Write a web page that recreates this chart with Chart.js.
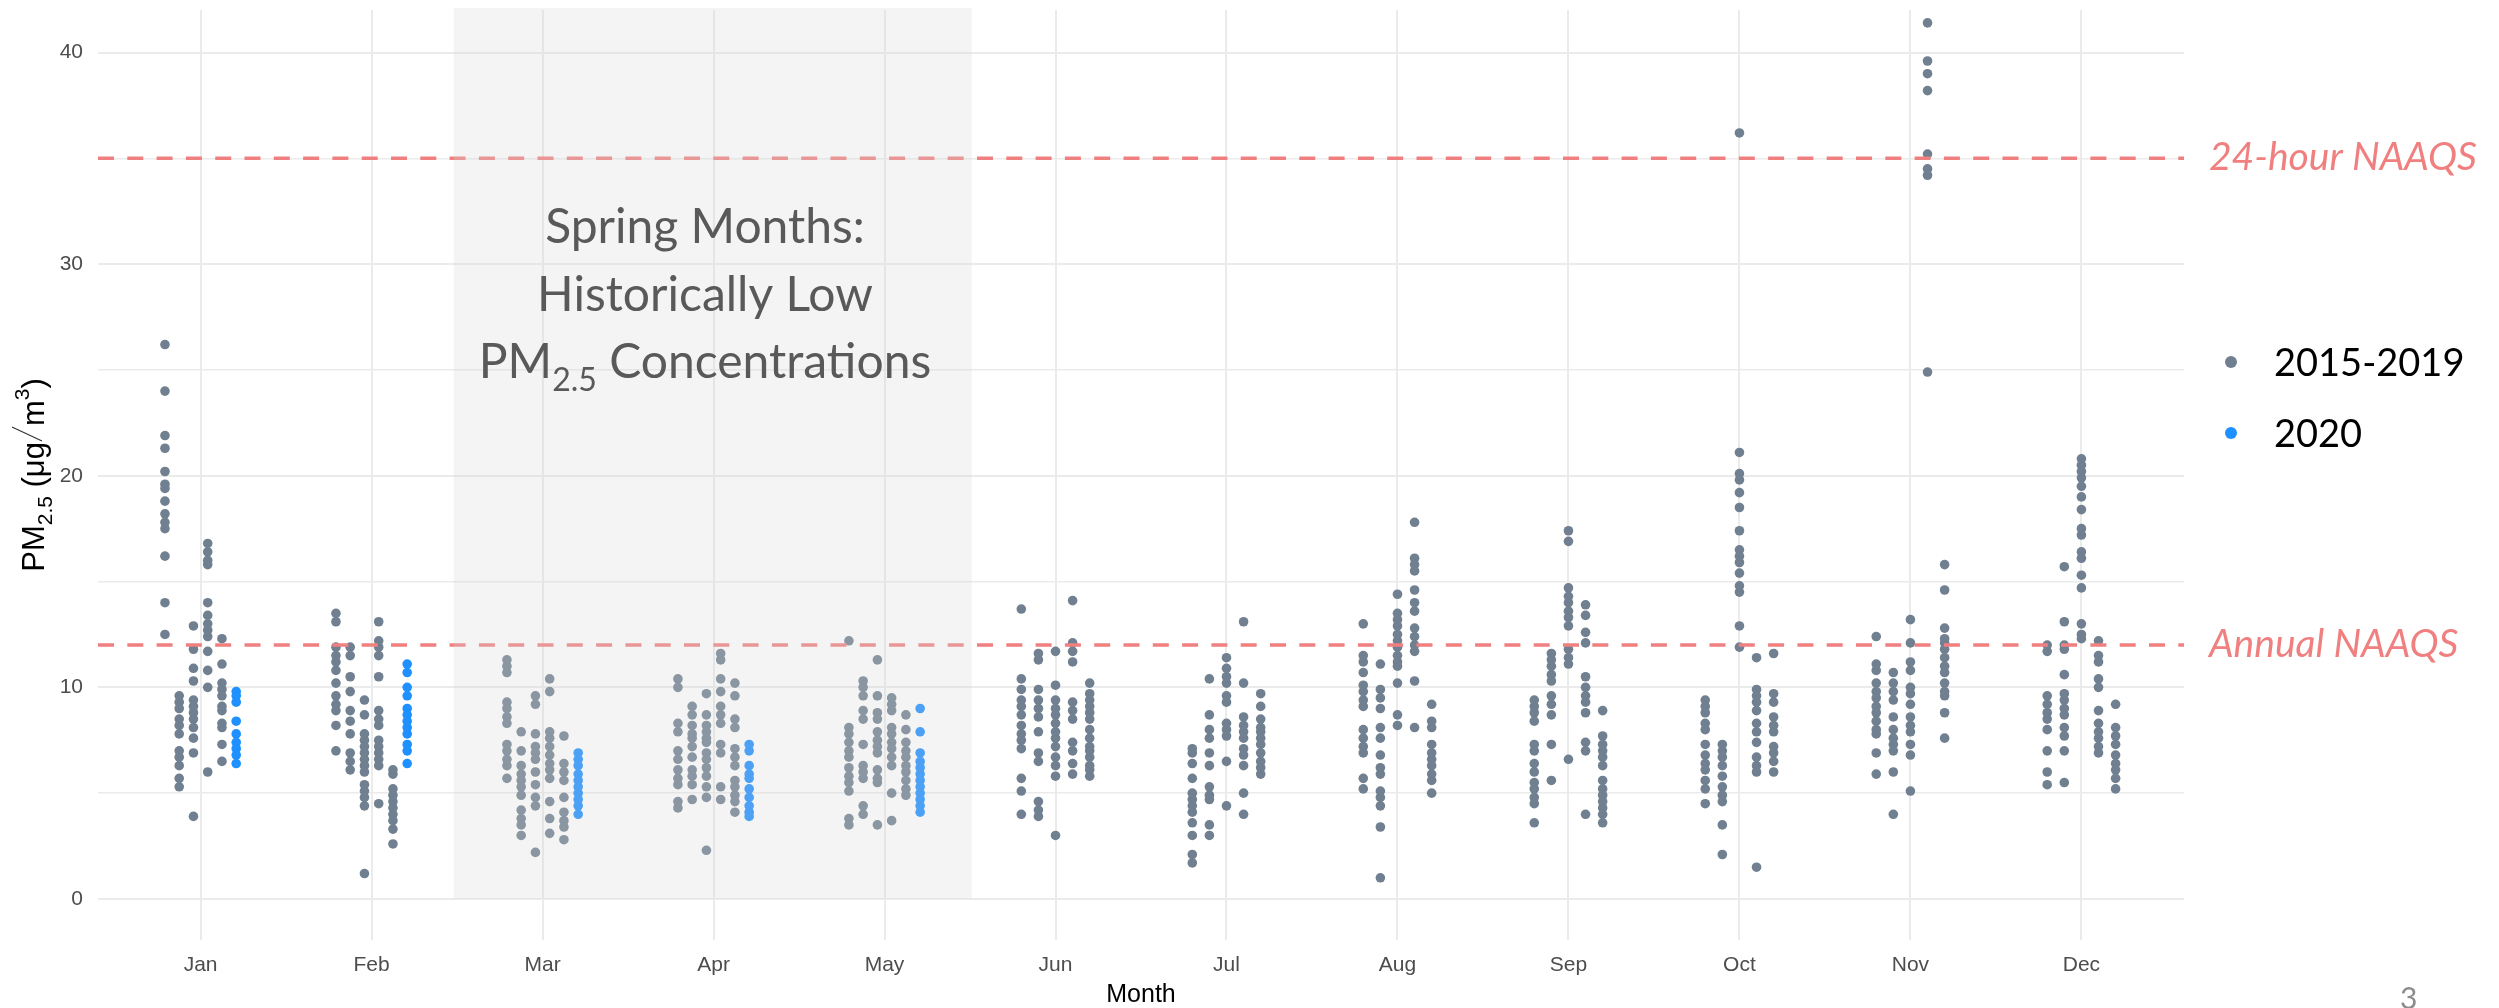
<!DOCTYPE html>
<html>
<head>
<meta charset="utf-8">
<title>PM2.5 by month</title>
<script src="https://cdn.jsdelivr.net/npm/chart.js@4.4.1/dist/chart.umd.min.js"></script>
<style>
  html, body { margin: 0; padding: 0; background: #fff; }
  canvas { display: block; }
</style>
</head>
<body>
<canvas id="pmChart" width="2499" height="1008"></canvas>
<script>
'use strict';

const months = ['Jan', 'Feb', 'Mar', 'Apr', 'May', 'Jun', 'Jul', 'Aug', 'Sep', 'Oct', 'Nov', 'Dec'];
const yTicks = [0, 5, 10, 15, 20, 25, 30, 35, 40];
const histLabel = '2015-2019';
const recentLabel = '2020';
const dailyStd = 35;
const annualStd = 12;

// daily PM2.5 values, one inner list per year (2015..2019)
const janHist = [
  [26.2, 24.0, 21.9, 21.3, 20.2, 19.6, 19.4, 18.8, 18.2, 17.8, 17.5, 16.2, 14.0, 12.5],
  [9.6, 9.3, 9.0, 8.5, 8.2, 7.8, 7.0, 6.7, 6.3, 5.7, 5.3],
  [12.9, 11.8, 10.9, 10.3, 9.4, 9.1, 8.8, 8.5, 8.1, 7.6, 6.9, 3.9],
  [16.8, 16.4, 16.0, 15.8, 14.0, 13.4, 13.0, 12.7, 12.4, 11.7, 10.8, 10.0, 6.0],
  [12.3, 11.1, 10.2, 9.9, 9.6, 9.1, 8.9, 8.3, 8.1, 7.3, 6.5]
];
const febHist = [
  [13.5, 13.1, 11.9, 11.5, 11.2, 10.8, 10.2, 9.6, 9.2, 8.9, 8.2, 7.0],
  [11.9, 11.5, 10.5, 9.8, 8.9, 8.4, 7.8, 6.9, 6.5, 6.1],
  [9.4, 8.7, 7.8, 7.5, 7.2, 6.9, 6.6, 6.3, 6.0, 5.4, 5.1, 4.8, 4.4, 1.2],
  [13.1, 12.2, 11.9, 11.5, 10.5, 8.9, 8.5, 8.2, 7.5, 7.2, 6.9, 6.6, 6.3, 4.5],
  [6.1, 5.9, 5.2, 4.9, 4.6, 4.3, 4.0, 3.7, 3.3, 2.6]
];
const marHist = [
  [11.3, 11.0, 10.7, 9.3, 9.0, 8.6, 8.3, 7.3, 7.0, 6.6, 6.3, 5.7],
  [7.9, 7.0, 6.3, 5.9, 5.6, 5.3, 4.9, 4.2, 3.8, 3.5, 3.0],
  [9.6, 9.2, 7.8, 7.2, 6.9, 6.6, 6.0, 5.4, 4.8, 4.4, 2.2],
  [10.4, 9.8, 7.9, 7.6, 7.2, 6.8, 6.4, 6.1, 5.7, 4.6, 3.8, 3.1],
  [7.7, 6.4, 6.0, 5.6, 4.8, 4.1, 3.7, 3.4, 2.8]
];
const aprHist = [
  [10.4, 10.0, 8.3, 7.9, 7.0, 6.6, 6.1, 5.7, 5.4, 4.6, 4.3],
  [9.1, 8.7, 8.2, 7.8, 7.6, 7.2, 6.7, 6.1, 5.8, 5.4, 4.7],
  [9.7, 8.7, 8.2, 7.9, 7.6, 7.4, 6.9, 6.6, 6.2, 5.8, 5.3, 4.8, 2.3],
  [11.6, 11.3, 10.4, 9.8, 9.1, 8.7, 8.3, 7.3, 6.9, 5.3, 4.7],
  [10.2, 9.6, 8.5, 8.1, 7.1, 6.7, 6.3, 5.6, 5.3, 4.9, 4.6, 4.1]
];
const mayHist = [
  [12.2, 8.1, 7.8, 7.4, 7.0, 6.7, 6.2, 5.8, 5.5, 5.1, 3.8, 3.5],
  [10.3, 10.0, 9.6, 8.9, 8.5, 7.3, 6.3, 6.0, 5.7, 4.4, 4.0],
  [11.3, 9.6, 8.8, 8.5, 7.9, 7.5, 7.2, 6.9, 6.1, 5.7, 5.5, 3.5],
  [9.5, 9.2, 8.9, 8.1, 7.8, 7.4, 7.1, 6.7, 6.3, 5.0, 3.7],
  [8.7, 8.0, 7.4, 7.0, 6.7, 6.3, 6.0, 5.6, 5.2, 4.9]
];
const junHist = [
  [13.7, 10.4, 9.9, 9.4, 9.1, 8.7, 8.2, 7.8, 7.5, 7.1, 5.7, 5.1, 4.0],
  [11.6, 11.3, 9.9, 9.4, 9.0, 8.6, 7.9, 6.9, 6.5, 4.6, 4.2, 3.9],
  [11.7, 10.1, 9.4, 9.0, 8.7, 8.3, 7.9, 7.6, 7.2, 6.7, 6.3, 5.8, 3.0],
  [14.1, 12.1, 11.7, 11.2, 9.3, 8.9, 8.5, 7.4, 7.0, 6.4, 5.9],
  [10.2, 9.7, 9.4, 9.1, 8.8, 8.5, 8.0, 7.6, 7.2, 7.0, 6.7, 6.3, 6.1, 5.8]
];
const julHist = [
  [7.1, 6.9, 6.4, 5.7, 5.0, 4.7, 4.4, 4.1, 3.6, 3.0, 2.1, 1.7],
  [10.4, 8.7, 8.0, 7.6, 6.9, 6.3, 5.3, 4.9, 4.7, 3.5, 3.0],
  [11.4, 10.9, 10.5, 10.2, 9.6, 9.3, 8.3, 8.0, 7.7, 6.5, 4.4],
  [13.1, 10.2, 8.6, 8.2, 7.9, 7.6, 7.1, 6.8, 6.3, 5.0, 4.0],
  [9.7, 9.1, 8.5, 8.1, 7.9, 7.6, 7.3, 6.9, 6.5, 6.2, 5.9]
];
const augHist = [
  [13.0, 11.5, 11.2, 10.7, 10.1, 9.8, 9.4, 9.1, 8.0, 7.6, 7.2, 6.9, 5.7, 5.2],
  [11.1, 9.9, 9.5, 9.0, 8.1, 7.6, 6.8, 6.2, 5.9, 5.1, 4.8, 4.4, 3.4, 1.0],
  [14.4, 13.5, 13.2, 12.9, 12.5, 12.2, 11.9, 11.5, 11.2, 11.0, 10.2, 8.7, 8.2],
  [17.8, 16.1, 15.8, 15.5, 14.6, 14.0, 13.6, 12.8, 12.4, 12.0, 11.7, 10.3, 8.1],
  [9.2, 8.4, 8.1, 7.3, 6.9, 6.6, 6.3, 5.9, 5.6, 5.0]
];
const sepHist = [
  [9.4, 9.1, 8.8, 8.4, 7.3, 7.0, 6.4, 6.0, 5.5, 5.2, 4.8, 4.5, 3.6],
  [11.6, 11.3, 11.0, 10.6, 10.3, 9.6, 9.2, 8.7, 7.3, 5.6],
  [17.4, 16.9, 14.7, 14.3, 14.0, 13.6, 13.3, 12.9, 11.8, 11.4, 11.1, 6.6],
  [13.9, 13.4, 12.6, 12.1, 10.5, 10.0, 9.6, 9.3, 8.8, 7.4, 7.0, 4.0],
  [8.9, 7.7, 7.3, 7.0, 6.7, 6.3, 5.6, 5.2, 4.9, 4.6, 4.3, 4.0, 3.6]
];
const octHist = [
  [9.4, 9.1, 8.8, 8.3, 8.0, 7.3, 6.8, 6.4, 6.1, 5.6, 5.2, 4.5],
  [7.3, 7.0, 6.7, 6.3, 5.8, 5.3, 4.9, 4.6, 3.5, 2.1],
  [36.2, 21.1, 20.1, 19.8, 19.2, 18.5, 17.4, 16.5, 16.2, 15.9, 15.4, 14.8, 14.5, 12.9, 11.9],
  [11.4, 9.9, 9.6, 9.3, 8.9, 8.3, 7.9, 7.4, 6.7, 6.3, 6.0, 1.5],
  [11.6, 9.7, 9.3, 8.6, 8.2, 7.9, 7.2, 6.9, 6.5, 6.0]
];
const novHist = [
  [12.4, 11.1, 10.8, 10.2, 9.8, 9.5, 9.1, 8.8, 8.4, 8.0, 7.8, 6.9, 5.9],
  [10.7, 10.2, 9.8, 9.4, 8.6, 8.0, 7.6, 7.3, 7.0, 6.0, 4.0],
  [13.2, 12.1, 11.2, 10.8, 10.0, 9.7, 9.2, 8.6, 8.2, 7.9, 7.3, 6.8, 5.1],
  [41.4, 39.6, 39.0, 38.2, 35.2, 34.5, 34.2, 24.9],
  [15.8, 14.6, 12.8, 12.3, 12.1, 11.8, 11.4, 11.0, 10.7, 10.2, 9.8, 9.6, 8.8, 7.6]
];
const decHist = [
  [12.0, 11.7, 9.6, 9.2, 8.8, 8.5, 8.0, 7.0, 6.0, 5.4],
  [15.7, 13.1, 12.0, 11.8, 10.6, 9.7, 9.4, 9.0, 8.7, 8.1, 7.7, 7.0, 5.5],
  [20.8, 20.5, 20.2, 19.9, 19.5, 19.0, 18.4, 17.5, 17.2, 16.4, 16.1, 15.3, 14.7, 13.0, 12.5, 12.3],
  [12.2, 11.5, 11.2, 10.4, 10.0, 8.9, 8.3, 7.9, 7.6, 7.2, 6.9],
  [9.2, 8.1, 7.7, 7.3, 6.8, 6.4, 6.1, 5.7, 5.2]
];

// 2020 only goes through May
const jan2020 = [9.8, 9.6, 9.3, 8.4, 7.8, 7.4, 7.1, 6.8, 6.4];
const feb2020 = [11.1, 10.7, 10.0, 9.6, 9.0, 8.7, 8.4, 8.1, 7.8, 7.3, 7.0, 6.4];
const mar2020 = [6.9, 6.6, 6.3, 5.9, 5.6, 5.3, 5.0, 4.7, 4.4, 4.0];
const apr2020 = [7.3, 7.0, 6.3, 5.9, 5.7, 5.2, 4.8, 4.4, 4.1, 3.9];
const may2020 = [9.0, 7.9, 6.9, 6.5, 6.2, 5.9, 5.6, 5.3, 5.0, 4.7, 4.4, 4.1];

const histByMonth = [janHist, febHist, marHist, aprHist, mayHist, junHist,
  julHist, augHist, sepHist, octHist, novHist, decHist];
const recentByMonth = [jan2020, feb2020, mar2020, apr2020, may2020];

const grayDot = '#708090';
const blueDot = '#1e90ff';
const stdColor = '#f08080';
const dodgeWidth = 0.5;
const springFrom = 2.48;
const springTo = 5.51;
const tickFont = 'Liberation Sans, Arial, sans-serif';
const slideFont = 'Lato, "Open Sans", sans-serif';

function dodge(groups, k) {
  return (k - (groups - 1) / 2) * dodgeWidth / groups;
}

const histPoints = [];
const recentPoints = [];
histByMonth.forEach((cols, m) => {
  const recent = recentByMonth[m];
  const groups = cols.length + (recent ? 1 : 0);
  cols.forEach((vals, k) => {
    vals.forEach(v => histPoints.push({x: m + 1 + dodge(groups, k), y: v}));
  });
  if (recent) {
    recent.forEach(v => recentPoints.push({x: m + 1 + dodge(groups, cols.length), y: v}));
  }
});

function stdLine(v) {
  return {
    type: 'line',
    data: [{x: 0.4, y: v}, {x: 12.6, y: v}],
    showLine: true,
    borderColor: stdColor,
    borderWidth: 3.5,
    borderDash: [16, 13.3],
    pointRadius: 0,
    fill: false,
    order: 0,
    isStd: true
  };
}

// gray box, captions, legend and y title drawn by hand
const slideDecor = {
  id: 'slideDecor',
  afterDatasetsDraw(chart) {
    const {ctx, chartArea, scales: {x, y}} = chart;
    const left = x.getPixelForValue(springFrom);
    const right = x.getPixelForValue(springTo);
    const top = chartArea.top - 2;
    const bottom = y.getPixelForValue(0);
    ctx.save();
    ctx.fillStyle = 'rgba(212, 212, 212, 0.26)';
    ctx.fillRect(left, top, right - left, bottom - top);

    ctx.fillStyle = '#595959';
    ctx.textBaseline = 'alphabetic';
    ctx.textAlign = 'center';
    const cx = x.getPixelForValue(3.95);
    ctx.font = '48px ' + slideFont;
    ctx.fillText('Spring Months:', cx, y.getPixelForValue(31.0));
    ctx.fillText('Historically Low', cx, y.getPixelForValue(27.8));

    ctx.textAlign = 'left';
    const base3 = y.getPixelForValue(24.6);
    ctx.font = '48px ' + slideFont;
    const wPM = ctx.measureText('PM').width;
    const wRest = ctx.measureText(' Concentrations').width;
    ctx.font = '32px ' + slideFont;
    const wSub = ctx.measureText('2.5').width;
    let px = cx - (wPM + wSub + wRest) / 2;
    ctx.font = '48px ' + slideFont;
    ctx.fillText('PM', px, base3);
    px += wPM;
    ctx.font = '32px ' + slideFont;
    ctx.fillText('2.5', px, base3 + 13);
    px += wSub;
    ctx.font = '48px ' + slideFont;
    ctx.fillText(' Concentrations', px, base3);
    ctx.restore();
  },
  afterDraw(chart) {
    const {ctx, chartArea, scales: {y}} = chart;
    ctx.save();

    // standard labels
    ctx.fillStyle = stdColor;
    ctx.font = 'italic 39px ' + slideFont;
    ctx.textAlign = 'left';
    ctx.textBaseline = 'alphabetic';
    ctx.fillText('24-hour NAAQS', 2209, y.getPixelForValue(dailyStd) + 12);
    ctx.fillText('Annual NAAQS', 2209, y.getPixelForValue(annualStd) + 12);

    // legend
    const items = chart.data.datasets.filter(d => !d.isStd);
    items.forEach((d, i) => {
      const cy = 362 + i * 71;
      ctx.fillStyle = d.backgroundColor;
      ctx.beginPath();
      ctx.arc(2231, cy, 6, 0, Math.PI * 2);
      ctx.fill();
      ctx.fillStyle = '#000';
      ctx.font = '38px ' + slideFont;
      ctx.fillText(d.label, 2274, cy + 14);
    });

    // y axis title: PM2.5 (ug/m3)
    ctx.translate(44, (chartArea.top + chartArea.bottom) / 2);
    ctx.rotate(-Math.PI / 2);
    ctx.fillStyle = '#000';
    const big = '31px ' + tickFont;
    const small = '21px ' + tickFont;
    const parts = [
      {t: 'PM', f: big, dy: 0},
      {t: '2.5', f: small, dy: 8},
      {t: ' (\u03bcg', f: big, dy: 0},
      {slash: true, w: 16},
      {t: 'm', f: big, dy: 0},
      {t: '3', f: small, dy: -15},
      {t: ')', f: big, dy: 0}
    ];
    let total = 0;
    parts.forEach(p => {
      if (p.slash) { total += p.w; return; }
      ctx.font = p.f;
      p.w = ctx.measureText(p.t).width;
      total += p.w;
    });
    let u = -total / 2;
    parts.forEach(p => {
      if (p.slash) {
        ctx.strokeStyle = '#333';
        ctx.lineWidth = 1.2;
        ctx.beginPath();
        ctx.moveTo(u + 1, -2);
        ctx.lineTo(u + p.w - 1, -32);
        ctx.stroke();
      } else {
        ctx.font = p.f;
        ctx.fillText(p.t, u, p.dy);
      }
      u += p.w;
    });
    ctx.restore();

    // slide number
    ctx.save();
    ctx.fillStyle = '#8c8c8c';
    ctx.font = '30px ' + slideFont;
    ctx.fillText('3', 2400, 1009);
    ctx.restore();
  }
};

const ctx = document.getElementById('pmChart').getContext('2d');
const pmChart = new Chart(ctx, {
  type: 'scatter',
  data: {
    datasets: [
      {
        label: histLabel,
        data: histPoints,
        backgroundColor: grayDot,
        borderWidth: 0,
        pointRadius: 4.8,
        pointHoverRadius: 4.8,
        order: 1
      },
      {
        label: recentLabel,
        data: recentPoints,
        backgroundColor: blueDot,
        borderWidth: 0,
        pointRadius: 4.8,
        pointHoverRadius: 4.8,
        order: 1
      },
      stdLine(dailyStd),
      stdLine(annualStd)
    ]
  },
  options: {
    responsive: false,
    devicePixelRatio: 1,
    animation: false,
    layout: {padding: {left: 0, right: 315, top: 10, bottom: 0}},
    plugins: {
      legend: {display: false},
      tooltip: {enabled: false}
    },
    scales: {
      x: {
        type: 'linear',
        min: 0.4,
        max: 12.6,
        afterBuildTicks: s => { s.ticks = months.map((m, i) => ({value: i + 1})); },
        afterFit: s => { s.height = 68; s.paddingLeft = 0; s.paddingRight = 0; },
        ticks: {
          callback: v => months[Math.round(v) - 1],
          font: {family: tickFont, size: 21},
          color: '#4d4d4d',
          padding: 13,
          maxRotation: 0,
          autoSkip: false
        },
        grid: {color: '#ebebeb', lineWidth: 2, drawTicks: false},
        border: {display: false},
        title: {
          display: true,
          text: 'Month',
          color: '#000',
          font: {family: tickFont, size: 25, lineHeight: 1},
          padding: 0
        }
      },
      y: {
        type: 'linear',
        min: -1.94,
        max: 42.01,
        afterBuildTicks: s => { s.ticks = yTicks.map(v => ({value: v})); },
        afterFit: s => { s.width = 98; s.paddingTop = 0; s.paddingBottom = 0; },
        ticks: {
          callback: v => (v % 10 === 0 ? String(v) : ''),
          font: {family: tickFont, size: 21},
          color: '#4d4d4d',
          padding: 15
        },
        grid: {
          color: '#ebebeb',
          lineWidth: c => (c.tick && c.tick.value % 10 === 0 ? 2 : 1.4),
          drawTicks: false
        },
        border: {display: false}
      }
    }
  },
  plugins: [slideDecor]
});
</script>
</body>
</html>
